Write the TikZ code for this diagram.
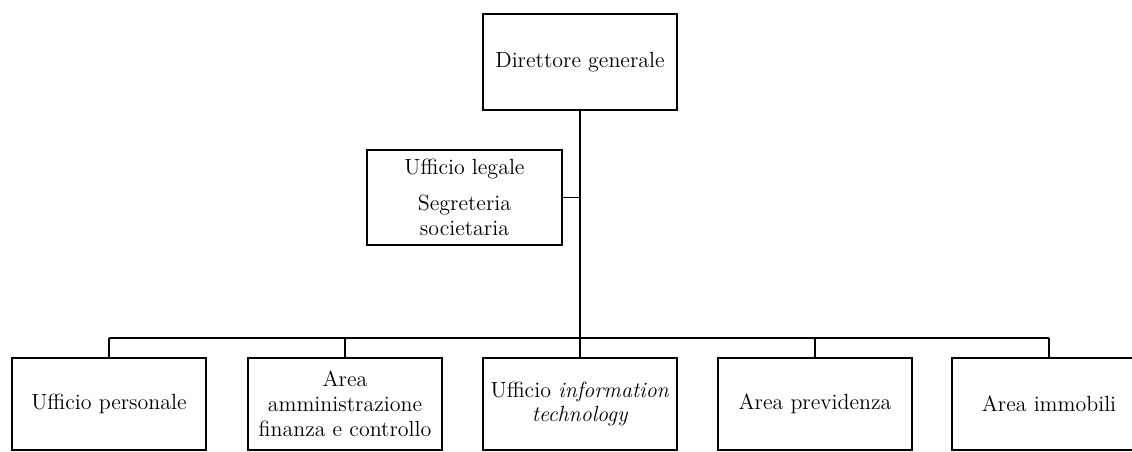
\documentclass[tikz,border=0pt]{standalone}
\begin{document}
\begin{tikzpicture}[x=0.02cm,y=-0.02cm,
    ufficio/.style={draw,line width=1.1pt,minimum width=3.88cm,minimum height=1.84cm,align=center,inner sep=2pt,font=\fontsize{12.5}{14.2}\selectfont},
    linea/.style={line width=1.1pt}]
  \clip (0,0) rectangle (1132,452);
  \node[ufficio,minimum height=1.92cm] (DG) at (580,62) {Direttore generale};
  \node[ufficio,minimum width=3.9cm,minimum height=1.9cm] (UL) at (464.5,197.5) {Ufficio legale\\[6pt]Segreteria\\societaria};
  \node[ufficio] (UP) at (109,404) {Ufficio personale};
  \node[ufficio] (AF) at (345,404) {Area\\amministrazione\\finanza e controllo};
  \node[ufficio] (IT) at (580,404) {Ufficio \textit{information}\\\textit{technology}};
  \node[ufficio] (AP) at (815,404) {Area previdenza};
  \node[ufficio] (AI) at (1049,404) {Area immobili};
  \coordinate (bus) at (580,338);
  \draw[linea] (DG.south) -- (bus);
  \draw[linea] (UL.east) -- (UL.east -| DG.south);
  \draw[linea] (UP.north |- bus) -- (AI.north |- bus);
  \foreach \n in {UP,AF,IT,AP,AI}
    \draw[linea] (\n.north) -- (\n.north |- bus);
\end{tikzpicture}
\end{document}
